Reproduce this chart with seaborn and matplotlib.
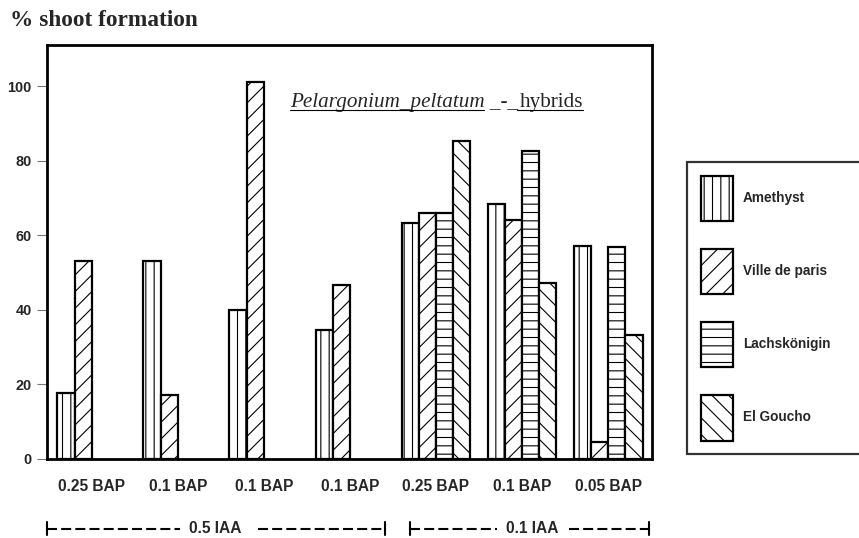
import numpy as np
import pandas as pd
import matplotlib
matplotlib.use("Agg")
import matplotlib.pyplot as plt
import seaborn as sns
from matplotlib.patches import Patch
from matplotlib.lines import Line2D

# data
bap_labels = ["0.25 BAP", "0.1 BAP", "0.1 BAP", "0.1 BAP", "0.25 BAP", "0.1 BAP", "0.05 BAP"]
cultivars = ["Amethyst", "Ville de paris", "Lachskönigin", "El Goucho"]
amethyst = [17.7, 53.0, 40.0, 34.6, 63.4, 68.4, 57.1]
ville_de_paris = [53.1, 17.2, 101.0, 46.6, 66.0, 64.0, 4.6]
lachskoenigin = [np.nan, np.nan, np.nan, np.nan, 66.0, 82.7, 56.8]
el_goucho = [np.nan, np.nan, np.nan, np.nan, 85.3, 47.3, 33.2]
iaa_labels = ["0.5 IAA", "0.1 IAA"]

hatches = ["||", "//", "--", "\\\\"]

rows = []
for name, vals in zip(cultivars, [amethyst, ville_de_paris, lachskoenigin, el_goucho]):
    for i, v in enumerate(vals):
        rows.append({"pos": str(i), "cultivar": name, "value": v})
df = pd.DataFrame(rows)

sns.set_style("white")
plt.rcParams["font.family"] = ["Liberation Sans", "DejaVu Sans"]
plt.rcParams["hatch.linewidth"] = 0.8

fig = plt.figure(figsize=(8.59, 5.38), dpi=100)
ax = fig.add_axes([47 / 859, 79 / 538, 605 / 859, 414 / 538])

sns.barplot(data=df, x="pos", y="value", hue="cultivar",
            order=[str(i) for i in range(7)], hue_order=cultivars,
            errorbar=None, width=0.8, legend=False, ax=ax)

for cont, h in zip(ax.containers, hatches):
    for bar in cont:
        bar.set_facecolor("white")
        bar.set_edgecolor("black")
        bar.set_linewidth(1.6)
        bar.set_hatch(h)

ax.set_xlim(-0.52, 6.51)
ax.set_ylim(0, 111)
ax.set_yticks([0, 20, 40, 60, 80, 100])
ax.set_xticks(range(7))
ax.set_xticklabels(bap_labels, fontsize=11.2, fontweight="bold")
ax.set_yticklabels([0, 20, 40, 60, 80, 100], fontsize=10.4, fontweight="bold")
ax.tick_params(axis="x", length=0, pad=14.5)
ax.tick_params(axis="y", length=7, width=0.8, color="#777777", direction="out", left=True, pad=4)
ax.set_xlabel("")
ax.set_ylabel("")
for s in ax.spines.values():
    s.set_linewidth(2)
    s.set_color("black")

fig.text(10 / 859, 1 - 26 / 538, "% shoot formation", family="Liberation Serif",
         weight="bold", fontsize=16.8, va="baseline")

# species caption with underlines
cap_x, cap_y = 2.30, 94.4
t1 = ax.text(cap_x, cap_y, "Pelargonium_peltatum _-_", family="Liberation Serif",
             style="italic", fontsize=15.2, va="baseline")
fig.canvas.draw()
r = fig.canvas.get_renderer()
bb = t1.get_window_extent(r)
inv = ax.transData.inverted()
x_end = inv.transform((bb.x1 + 2, 0))[0]
t2 = ax.text(x_end, cap_y, "hybrids", family="Liberation Serif", fontsize=15.2, va="baseline")
t3 = ax.text(cap_x, cap_y, "Pelargonium_peltatum", family="Liberation Serif",
             style="italic", fontsize=15.2, va="baseline", alpha=0)
fig.canvas.draw()
bb2 = t2.get_window_extent(r)
bb3 = t3.get_window_extent(r)
base_px = ax.transData.transform((0, cap_y))[1] - 3
for x0, x1 in [(bb3.x0, bb3.x1), (bb2.x0 - 3, bb2.x1)]:
    fig.add_artist(Line2D([x0 / 859, x1 / 859], [base_px / 538, base_px / 538],
                          color="black", lw=0.8))

# legend
handles = [Patch(facecolor="white", edgecolor="black", hatch=h, linewidth=1.6) for h in hatches]
leg = ax.legend(handles, cultivars, loc="upper left",
                bbox_to_anchor=(687 / 859, 1 - 162 / 538 - 0.01, 0.22, 0.01),
                bbox_transform=fig.transFigure, mode="expand",
                prop={"family": "Liberation Sans", "weight": "bold", "size": 9.8},
                handlelength=2.4, handleheight=4.75, labelspacing=2.05,
                handletextpad=0.7, borderpad=1.0, borderaxespad=0,
                frameon=True, fancybox=False)
leg.get_frame().set_edgecolor("black")
leg.get_frame().set_linewidth(1.6)

# IAA brackets below axis
trans = ax.get_xaxis_transform()
yb = -0.168
segs = [(-0.52, 1.02, 1.44, 1.93, 3.41, iaa_labels[0]),
        (3.70, 4.71, 5.12, 5.55, 6.48, iaa_labels[1])]
for x0, xa, xc, xb, x1, lab in segs:
    ax.text(xc, yb, lab, transform=trans, ha="center", va="center",
            fontsize=11.2, fontweight="bold")
    ax.plot([x0, xa], [yb, yb], transform=trans, clip_on=False,
            color="black", lw=1.5, dashes=(4.8, 2))
    ax.plot([xb, x1], [yb, yb], transform=trans, clip_on=False,
            color="black", lw=1.5, dashes=(4.8, 2))
    for xe in (x0, x1):
        ax.plot([xe, xe], [yb - 0.015, yb + 0.015], transform=trans, clip_on=False,
                color="black", lw=1.5)

fig.savefig("out.png", dpi=100)
